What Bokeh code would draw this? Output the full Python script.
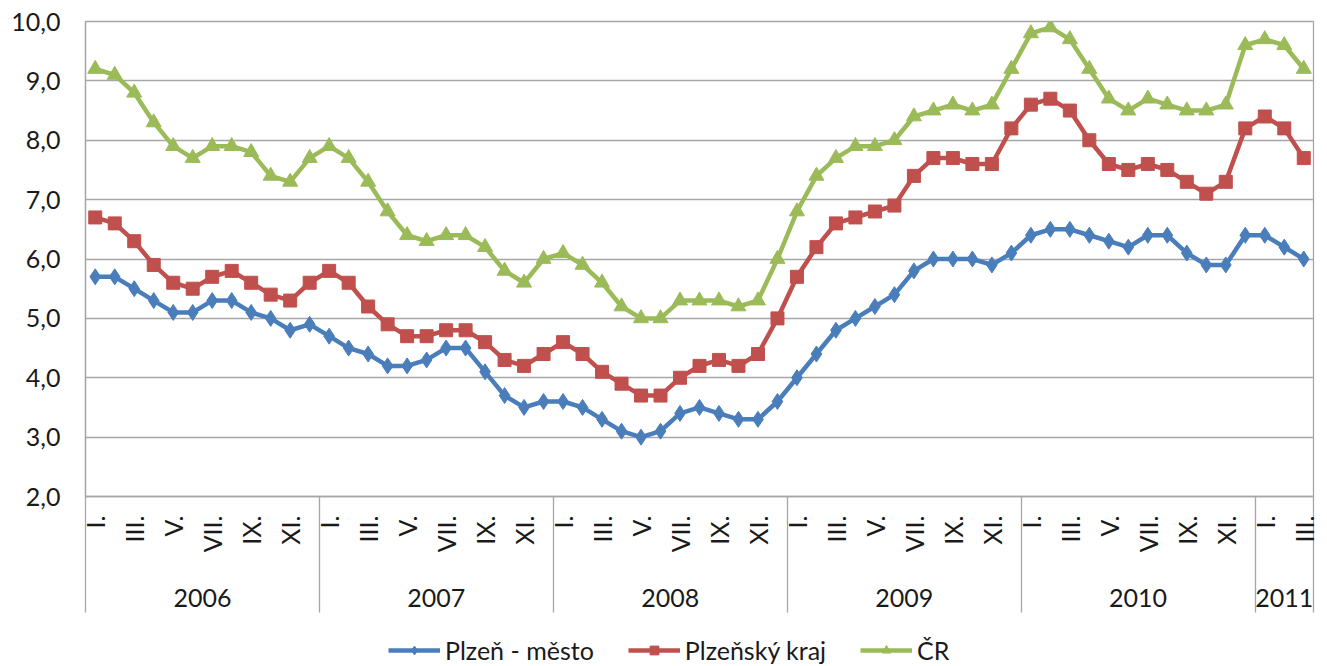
import math
from bokeh.plotting import figure
from bokeh.layouts import column
from bokeh.models import (Range1d, FixedTicker, LinearAxis, Legend, LegendItem,
                          ColumnDataSource, CustomJSTickFormatter)
from bokeh.embed import file_html
from bokeh.resources import INLINE

# ---------------- data ----------------
years = ["2006", "2007", "2008", "2009", "2010", "2011"]
months_per_year = [12, 12, 12, 12, 12, 3]
month_names = ["I.", "II.", "III.", "IV.", "V.", "VI.",
               "VII.", "VIII.", "IX.", "X.", "XI.", "XII."]
shown_months = ["I.", "III.", "V.", "VII.", "IX.", "XI."]

plzen_mesto = [5.7, 5.7, 5.5, 5.3, 5.1, 5.1, 5.3, 5.3, 5.1, 5.0, 4.8, 4.9,
               4.7, 4.5, 4.4, 4.2, 4.2, 4.3, 4.5, 4.5, 4.1, 3.7, 3.5, 3.6,
               3.6, 3.5, 3.3, 3.1, 3.0, 3.1, 3.4, 3.5, 3.4, 3.3, 3.3, 3.6,
               4.0, 4.4, 4.8, 5.0, 5.2, 5.4, 5.8, 6.0, 6.0, 6.0, 5.9, 6.1,
               6.4, 6.5, 6.5, 6.4, 6.3, 6.2, 6.4, 6.4, 6.1, 5.9, 5.9, 6.4,
               6.4, 6.2, 6.0]
plzensky_kraj = [6.7, 6.6, 6.3, 5.9, 5.6, 5.5, 5.7, 5.8, 5.6, 5.4, 5.3, 5.6,
                 5.8, 5.6, 5.2, 4.9, 4.7, 4.7, 4.8, 4.8, 4.6, 4.3, 4.2, 4.4,
                 4.6, 4.4, 4.1, 3.9, 3.7, 3.7, 4.0, 4.2, 4.3, 4.2, 4.4, 5.0,
                 5.7, 6.2, 6.6, 6.7, 6.8, 6.9, 7.4, 7.7, 7.7, 7.6, 7.6, 8.2,
                 8.6, 8.7, 8.5, 8.0, 7.6, 7.5, 7.6, 7.5, 7.3, 7.1, 7.3, 8.2,
                 8.4, 8.2, 7.7]
cr = [9.2, 9.1, 8.8, 8.3, 7.9, 7.7, 7.9, 7.9, 7.8, 7.4, 7.3, 7.7,
      7.9, 7.7, 7.3, 6.8, 6.4, 6.3, 6.4, 6.4, 6.2, 5.8, 5.6, 6.0,
      6.1, 5.9, 5.6, 5.2, 5.0, 5.0, 5.3, 5.3, 5.3, 5.2, 5.3, 6.0,
      6.8, 7.4, 7.7, 7.9, 7.9, 8.0, 8.4, 8.5, 8.6, 8.5, 8.6, 9.2,
      9.8, 9.9, 9.7, 9.2, 8.7, 8.5, 8.7, 8.6, 8.5, 8.5, 8.6, 9.6,
      9.7, 9.6, 9.2]
series_names = ["Plzeň - město", "Plzeňský kraj", "ČR"]
y_ticks = [2.0, 3.0, 4.0, 5.0, 6.0, 7.0, 8.0, 9.0, 10.0]

# ---------------- derived positions (category slots) ----------------
month_seq = []
for y, n in zip(years, months_per_year):
    month_seq += month_names[:n]
n_total = len(month_seq)
xs = [i + 0.5 for i in range(n_total)]

month_tick_pos = [x for x, m in zip(xs, month_seq) if m in shown_months]
month_tick_lab = {x: m for x, m in zip(xs, month_seq) if m in shown_months}

bounds = [0]
for n in months_per_year:
    bounds.append(bounds[-1] + n)
year_centers = [(bounds[i] + bounds[i + 1]) / 2 for i in range(len(years))]
year_lab = {c: y for c, y in zip(year_centers, years)}

src = ColumnDataSource(dict(x=xs, a=plzen_mesto, b=plzensky_kraj, c=cr))

FONT = "Lato"
FS = "25px"
GRID = "#a6a6a6"
TXT = "#1a1a1a"
SEP = 116  # separator length below the x axis line

p = figure(frame_width=1228, frame_height=475,
           x_range=Range1d(0, n_total), y_range=Range1d(y_ticks[0], y_ticks[-1]),
           output_backend="svg", toolbar_location=None,
           min_border_left=85, min_border_right=6, min_border_top=21,
           min_border_bottom=130)
p.background_fill_color = "white"
p.border_fill_color = "white"
p.outline_line_color = GRID
p.outline_line_width = 1.3

# y axis
p.yaxis.ticker = FixedTicker(ticks=y_ticks)
p.yaxis.formatter = CustomJSTickFormatter(code="return tick.toFixed(1).replace('.', ',');")
p.yaxis.axis_line_color = GRID
p.yaxis.axis_line_width = 1.3
p.yaxis.major_tick_out = 0
p.yaxis.major_tick_in = 0
p.yaxis.minor_tick_line_color = None
p.yaxis.major_label_standoff = 25
p.yaxis.major_label_text_font = FONT
p.yaxis.major_label_text_font_size = FS
p.yaxis.major_label_text_color = TXT
p.ygrid.ticker = FixedTicker(ticks=y_ticks)
p.ygrid.grid_line_color = GRID
p.ygrid.grid_line_width = 1.3
p.xgrid.grid_line_color = None

# month axis (first below) - long minor ticks act as group separators
xa = p.xaxis[0]
xa.ticker = FixedTicker(ticks=month_tick_pos, minor_ticks=bounds)
xa.major_label_overrides = month_tick_lab
xa.major_label_orientation = math.pi / 2
xa.major_tick_out = 0
xa.major_tick_in = 0
xa.minor_tick_in = 0
xa.minor_tick_out = SEP
xa.minor_tick_line_color = GRID
xa.minor_tick_line_width = 1.3
xa.axis_line_color = GRID
xa.axis_line_width = 1.3
xa.major_label_standoff = 19 - SEP
xa.major_label_text_font = FONT
xa.major_label_text_font_size = FS
xa.major_label_text_color = TXT

# year axis
ya = LinearAxis(ticker=FixedTicker(ticks=year_centers, minor_ticks=[]),
                major_label_overrides=year_lab)
ya.axis_line_color = None
ya.major_tick_out = 0
ya.major_tick_in = 0
ya.minor_tick_line_color = None
ya.major_label_standoff = 33
ya.major_label_text_font = FONT
ya.major_label_text_font_size = FS
ya.major_label_text_color = TXT
p.add_layout(ya, "below")

colors = ["#4a7ebb", "#c0504d", "#9bbb59"]
markers = ["diamond", "square", "triangle"]
sizes = [16, 13, 15]

# legend strip below the chart
lf = figure(width=1319, height=40, output_backend="svg", toolbar_location=None,
            x_axis_type=None, y_axis_type=None, min_border=0,
            x_range=Range1d(0, 1), y_range=Range1d(0, 1))
lf.outline_line_color = None
lf.grid.grid_line_color = None
lf.background_fill_color = "white"
lf.border_fill_color = "white"

items = []
for key, name, col, mk, sz in zip(["a", "b", "c"], series_names, colors, markers, sizes):
    p.line("x", key, source=src, line_color=col, line_width=4.5)
    p.scatter("x", key, source=src, marker=mk, size=sz,
              fill_color=col, line_color=col)
    # legend swatches: styled renderers placed outside the strip's visible range
    lr = lf.line(x=[-5, -4], y=[-5, -4], line_color=col, line_width=4.5)
    sr = lf.scatter(x=[-5], y=[-5], marker=mk, size=sz, fill_color=col, line_color=col)
    items.append(LegendItem(label=name, renderers=[lr, sr]))

legend = Legend(items=items, orientation="horizontal", location=(303, 1),
                border_line_color=None, background_fill_alpha=0,
                label_text_font=FONT, label_text_font_size=FS,
                label_text_color=TXT,
                glyph_width=52, glyph_height=22, label_standoff=5,
                spacing=34, padding=0, margin=0)
lf.add_layout(legend, "center")

layout = column(p, lf, spacing=0)
open("out.html", "w").write(file_html(layout, INLINE))
